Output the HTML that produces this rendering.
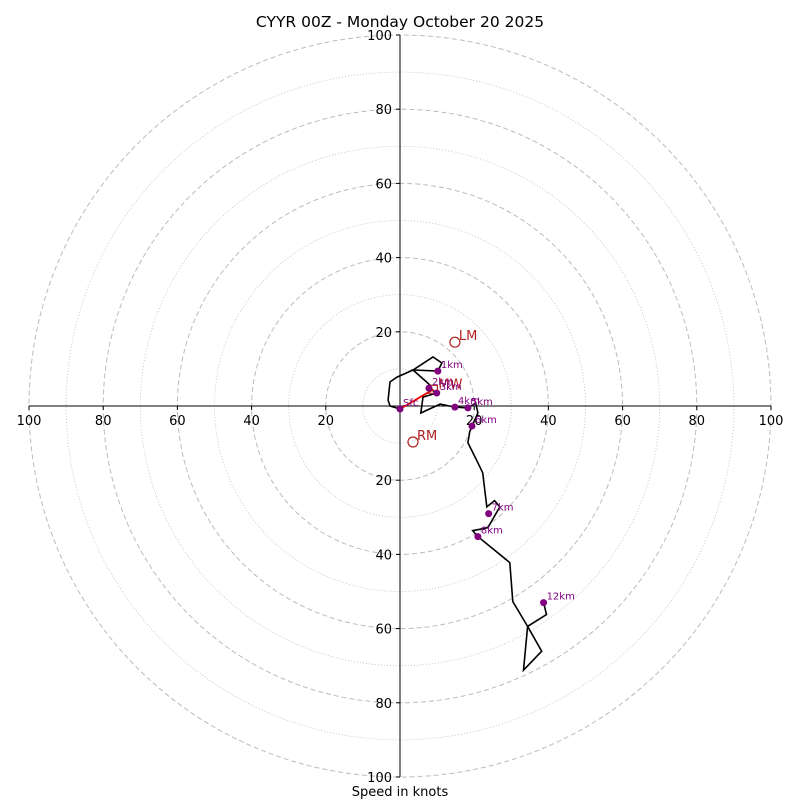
<!DOCTYPE html>
<html><head><meta charset="utf-8"><style>
html,body{margin:0;padding:0;background:#fff;}
svg text{font-family:"DejaVu Sans","Liberation Sans",sans-serif;}
</style></head><body>
<svg id="chart" width="800" height="800" xmlns="http://www.w3.org/2000/svg">
<text x="400" y="27" text-anchor="middle" font-size="15.5">CYYR 00Z - Monday October 20 2025</text>
<text x="400" y="796" text-anchor="middle" font-size="13">Speed in knots</text>
<g id="rings"></g><g id="axes"></g><g id="trace"></g><g id="marks"></g>
</svg>
<script>
const ringValues = [10,20,30,40,50,60,70,80,90,100];
const tickValues = [20,40,60,80,100];
const hodoU = [0,-2.7,-3.2,-2.7,-0.8,3.5,8.9,11.3,10.2,3.5,8.1,7.8,9.9,6.2,5.6,10.8,14.8,18.3,20.4,21.0,19.4,18.8,18.3,21.0,22.3,23.4,25.5,26.9,23.7,19.6,21.0,29.6,30.4,34.4,38.2,33.3,34.4,39.5,38.7];
const hodoV = [-0.8,0,1.6,6.5,7.8,9.7,13.2,11.6,9.4,9.7,5.6,4.8,3.5,2.4,-1.9,0.5,-0.3,-0.5,0.8,-1.9,-5.4,-7.0,-9.9,-15.3,-18.0,-27.2,-25.5,-27.2,-32.8,-33.6,-35.2,-42.2,-52.7,-59.4,-66.1,-71.2,-59.4,-56.2,-53.0];
const heightLabels = ["Sfc","1km","2km","3km","4km","5km","6km","7km","8km","12km"];
const heightU = [0,10.2,7.8,9.9,14.8,18.3,19.4,23.9,21.0,38.7];
const heightV = [-0.8,9.4,4.8,3.5,-0.3,-0.5,-5.4,-29.0,-35.2,-53.0];
const stormLabels = ["LM","RM"];
const stormU = [14.8,3.5];
const stormV = [17.2,-9.7];
const meanWind = [9.0,4.5];

const NS="http://www.w3.org/2000/svg";
const cx=400, cy=406, k=3.71;
const sx=u=>cx+u*k, sy=v=>cy-v*k;
function mk(tag,attrs,parent,txt){const e=document.createElementNS(NS,tag);for(const a in attrs)e.setAttribute(a,attrs[a]);if(txt!==undefined)e.textContent=txt;parent.appendChild(e);return e;}
const rings=document.getElementById('rings'), axes=document.getElementById('axes'), trace=document.getElementById('trace'), marks=document.getElementById('marks');
ringValues.forEach(r=>{
  const c=mk('circle',{cx:cx,cy:cy,r:r*k,fill:'none',stroke:'#bbb','stroke-width':r%20===0?1:0.8,'stroke-dasharray':r%20===0?'5,3':'1,2'},rings);
  
  
});
const xl=mk('line',{x1:sx(-100),y1:cy,x2:sx(100),y2:cy,stroke:'#000','stroke-width':1},axes);


const yl=mk('line',{x1:cx,y1:sy(100),x2:cx,y2:sy(-100),stroke:'#000','stroke-width':1},axes);


tickValues.forEach(t=>{
  [-1,1].forEach(s=>{
    mk('line',{x1:sx(s*t),y1:cy,x2:sx(s*t),y2:cy+4,stroke:'#000'},axes);
    const tx=mk('text',{x:sx(s*t),y:cy+19,'text-anchor':'middle','font-size':13},axes,String(t));
    
    
    mk('line',{x1:cx-4,y1:sy(s*t),x2:cx,y2:sy(s*t),stroke:'#000'},axes);
    const ty=mk('text',{x:cx-8,y:sy(s*t)+5,'text-anchor':'end','font-size':13},axes,String(t));
    
    
  });
});
const pts=hodoU.map((u,i)=>sx(u).toFixed(1)+','+sy(hodoV[i]).toFixed(1)).join(' ');
const pl=mk('polyline',{points:pts,fill:'none',stroke:'#000','stroke-width':1.6,'stroke-linejoin':'miter'},trace);


const ar=mk('line',{x1:sx(heightU[0]),y1:sy(heightV[0]),x2:sx(meanWind[0]),y2:sy(meanWind[1]),stroke:'#e00','stroke-width':1.8},marks);


const mw=mk('rect',{x:sx(meanWind[0])-5,y:sy(meanWind[1])-4,width:9,height:8,fill:'none',stroke:'#b22222','stroke-width':1.2},marks);


const mwt=mk('text',{x:sx(meanWind[0])+5,y:sy(meanWind[1])-1,'font-size':13,fill:'#b22222'},marks,'MW');


heightLabels.forEach((l,i)=>{
  const d=mk('circle',{cx:sx(heightU[i]),cy:sy(heightV[i]),r:3.5,fill:'#800080'},marks);
  
  
  const t=mk('text',{x:sx(heightU[i])+3,y:sy(heightV[i])-3,'font-size':10,fill:'#800080'},marks,l);
  
  
});
stormLabels.forEach((l,i)=>{
  const c=mk('circle',{cx:sx(stormU[i]),cy:sy(stormV[i]),r:5,fill:'none',stroke:'#b22222','stroke-width':1.2},marks);
  
  
  const t=mk('text',{x:sx(stormU[i])+4,y:sy(stormV[i])-2,'font-size':13,fill:'#b22222'},marks,l);
  
  
});
</script>
</body></html>
